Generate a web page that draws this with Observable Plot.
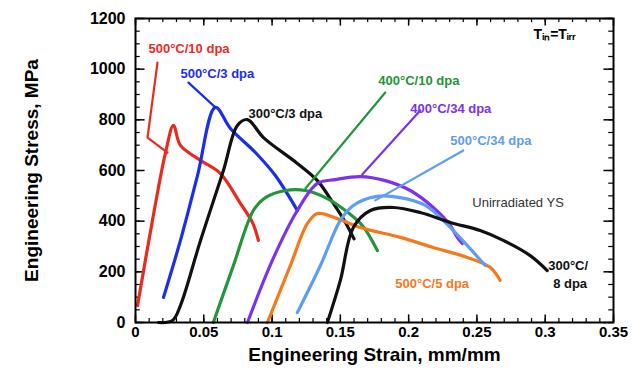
<!DOCTYPE html>
<html>
<head>
<meta charset="utf-8">
<script src="https://cdn.jsdelivr.net/npm/d3@7"></script>
<script src="https://cdn.jsdelivr.net/npm/@observablehq/plot@0.6"></script>
<style>
  html, body { margin: 0; padding: 0; background: #fff; }
  #chart svg { display: block; }
</style>
</head>
<body>
<div id="chart"></div>
<script>
// ---- Data (strain mm/mm, stress MPa) ----
const seriesNames = ["500°C/10 dpa", "500°C/3 dpa", "300°C/3 dpa", "400°C/10 dpa", "400°C/34 dpa", "500°C/5 dpa", "500°C/34 dpa", "300°C/8 dpa"];
const seriesColors = ["#ea2a1e", "#1b2fe6", "#111111", "#23953a", "#7a32ee", "#f5791a", "#5f9df2", "#111111"];

const redStrain = [0.0015, 0.0124, 0.022, 0.0278, 0.0329, 0.0476, 0.0622, 0.0768, 0.0856, 0.090];
const redStress = [67, 403, 671, 778, 699, 640, 588, 470, 395, 324];

const blueStrain = [0.0205, 0.0329, 0.0454, 0.0585, 0.0695, 0.0878, 0.1024, 0.1185];
const blueStress = [99, 324, 580, 849, 766, 671, 580, 442];

const black1Strain = [0.0168, 0.0271, 0.0329, 0.0476, 0.0644, 0.0746, 0.082, 0.0937, 0.1185, 0.1332, 0.1449, 0.1537, 0.160];
const black1Stress = [0, 8, 67, 324, 600, 778, 801, 730, 628, 560, 470, 395, 330];

const greenStrain = [0.057, 0.0717, 0.0863, 0.0951, 0.1098, 0.1244, 0.139, 0.1537, 0.1661, 0.1771];
const greenStress = [0, 225, 442, 493, 521, 521, 493, 442, 383, 284];

const purpleStrain = [0.082, 0.1002, 0.1185, 0.1332, 0.1463, 0.1646, 0.1829, 0.2012, 0.218, 0.2305, 0.2356, 0.2393];
const purpleStress = [0, 245, 442, 549, 564, 576, 560, 521, 454, 383, 336, 312];

const orangeStrain = [0.0966, 0.1134, 0.1259, 0.1332, 0.1478, 0.1646, 0.1939, 0.218, 0.2429, 0.2598, 0.267];
const orangeStress = [0, 225, 391, 430, 410, 375, 336, 296, 257, 217, 166];

const lightBlueStrain = [0.1185, 0.1354, 0.15, 0.1595, 0.1756, 0.1939, 0.2122, 0.2268, 0.2415, 0.2561];
const lightBlueStress = [39, 225, 403, 462, 497, 493, 462, 395, 312, 225];

const black2Strain = [0.1405, 0.15, 0.1595, 0.172, 0.1888, 0.2085, 0.2305, 0.2524, 0.2693, 0.289, 0.3015];
const black2Stress = [0, 166, 375, 442, 454, 434, 395, 363, 324, 264, 205];

// leader lines from labels to curves
const leaderSeries = [0, 0, 0, 1, 1, 3, 3, 4, 4, 6, 6];
const leaderGroup  = [0, 0, 0, 1, 1, 2, 2, 3, 3, 4, 4];
const leaderStrain = [0.0161, 0.0088, 0.0234, 0.0388, 0.0585, 0.1244, 0.1829, 0.2085, 0.166, 0.24, 0.1756];
const leaderStress = [1026, 730, 671, 947, 849, 529, 908, 837, 584, 679, 482];

// curve labels
const labelText   = ["500°C/10 dpa", "500°C/3 dpa", "300°C/3 dpa", "400°C/10 dpa", "400°C/34 dpa", "500°C/34 dpa", "500°C/5 dpa", "300°C/", "8 dpa"];
const labelSeries = [0, 1, 2, 3, 4, 6, 5, 7, 7];
const labelStrain = [0.0095, 0.0329, 0.0827, 0.1778, 0.2012, 0.2305, 0.1902, 0.3022, 0.3058];
const labelStress = [1082, 983, 825, 955, 845, 718, 154, 225, 154];

const xTickValues = [0, 0.05, 0.1, 0.15, 0.2, 0.25, 0.3, 0.35];
const xTickLabels = ["0", "0.05", "0.1", "0.15", "0.2", "0.25", "0.3", "0.35"];
const yTickValues = [0, 200, 400, 600, 800, 1000, 1200];
const yTickLabels = ["0", "200", "400", "600", "800", "1000", "1200"];
const xMinorValues = d3.range(0, 36).map(i => i / 100);
const yMinorValues = d3.range(0, 1201, 50);

const xLabel = "Engineering Strain, mm/mm";
const yLabel = "Engineering Stress, MPa";
const noteText = "Unirradiated YS";
const condText = "Tᵢₙ=Tᵢᵣᵣ";

// ---- Build tables ----
const strains = [redStrain, blueStrain, black1Strain, greenStrain, purpleStrain, orangeStrain, lightBlueStrain, black2Strain];
const stresses = [redStress, blueStress, black1Stress, greenStress, purpleStress, orangeStress, lightBlueStress, black2Stress];
const curves = [];
strains.forEach((xs, s) => xs.forEach((x, i) => curves.push({s, x, y: stresses[s][i]})));
const leaders = leaderStrain.map((x, i) => ({s: leaderSeries[i], g: leaderGroup[i], x, y: leaderStress[i]}));
const labels = labelText.map((t, i) => ({t, s: labelSeries[i], x: labelStrain[i], y: labelStress[i]}));

const colorOf = s => seriesColors[s];
const xMax = 0.35, yMax = 1200;

const chart = Plot.plot({
  width: 633,
  height: 382,
  marginLeft: 135,
  marginRight: 20,
  marginTop: 18,
  marginBottom: 60,
  style: {fontFamily: "'Liberation Sans', Arial, sans-serif", fontWeight: "bold", background: "#fff"},
  x: {domain: [0, xMax]},
  y: {domain: [0, yMax]},
  marks: [
    // inward ticks
    Plot.ruleX(xMinorValues, {x: d => d, y1: 0, y2: 16, stroke: "#000", strokeWidth: 1.2}),
    Plot.ruleX(xMinorValues, {x: d => d, y1: yMax - 16, y2: yMax, stroke: "#000", strokeWidth: 1.2}),
    Plot.ruleX(xTickValues, {x: d => d, y1: 0, y2: 30, stroke: "#000", strokeWidth: 1.5}),
    Plot.ruleX(xTickValues, {x: d => d, y1: yMax - 30, y2: yMax, stroke: "#000", strokeWidth: 1.5}),
    Plot.ruleY(yMinorValues, {y: d => d, x1: 0, x2: 0.0035, stroke: "#000", strokeWidth: 1.2}),
    Plot.ruleY(yMinorValues, {y: d => d, x1: xMax - 0.0035, x2: xMax, stroke: "#000", strokeWidth: 1.2}),
    Plot.ruleY(yTickValues, {y: d => d, x1: 0, x2: 0.007, stroke: "#000", strokeWidth: 1.5}),
    Plot.ruleY(yTickValues, {y: d => d, x1: xMax - 0.007, x2: xMax, stroke: "#000", strokeWidth: 1.5}),
    // curves
    Plot.line(curves, {x: "x", y: "y", z: "s", stroke: d => colorOf(d.s), strokeWidth: 3.2, curve: "catmull-rom"}),
    Plot.line(leaders, {x: "x", y: "y", z: "g", stroke: d => colorOf(d.s), strokeWidth: 2.2}),
    // labels
    Plot.text(labels, {x: "x", y: "y", text: "t", fill: d => colorOf(d.s), textAnchor: "start", fontSize: 13, fontWeight: "bold"}),
    Plot.text([noteText], {x: 0.2466, y: 474, textAnchor: "start", fill: "#333", fontSize: 13, fontWeight: "normal"}),
    Plot.text([condText], {x: 0.2915, y: 1135, textAnchor: "start", fill: "#000", fontSize: 14, fontWeight: "bold"}),
    // axes
    Plot.axisX(xTickValues, {tickSize: 0, tickPadding: 4, fontSize: 15, tickFormat: (d, i) => xTickLabels[i], label: null}),
    Plot.axisY(yTickValues, {tickSize: 0, tickPadding: 10, fontSize: 16, tickFormat: (d, i) => yTickLabels[i], label: null}),
    Plot.text([xLabel], {frameAnchor: "bottom", dy: 38, fontSize: 19, fontWeight: "bold", fill: "#000"}),
    Plot.text([yLabel], {frameAnchor: "left", textAnchor: "middle", rotate: -90, dx: -104, fontSize: 19, fontWeight: "bold", fill: "#000"}),
    Plot.frame({stroke: "#000", strokeWidth: 2})
  ]
});
document.getElementById("chart").appendChild(chart);
</script>
</body>
</html>
